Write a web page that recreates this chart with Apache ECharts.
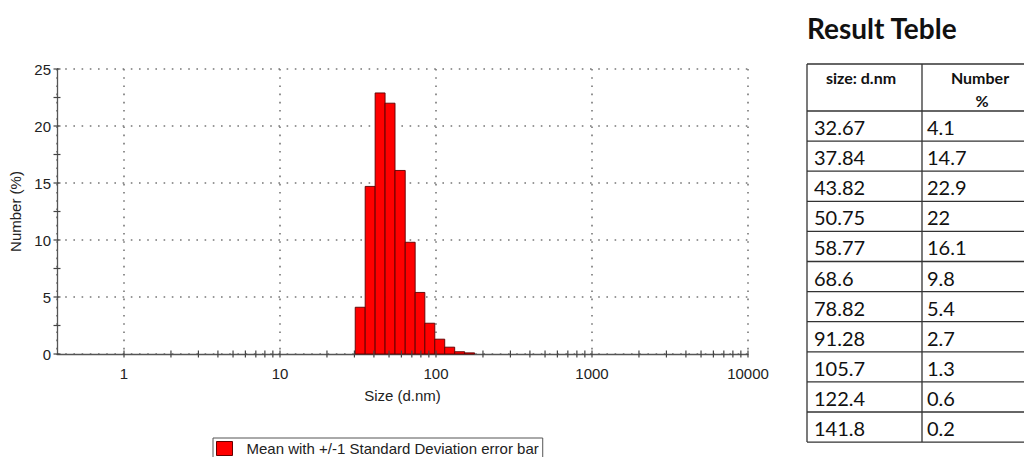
<!DOCTYPE html>
<html><head><meta charset="utf-8">
<script src="https://cdn.jsdelivr.net/npm/echarts@6/dist/echarts.min.js"></script>
<style>html,body{margin:0;padding:0;background:#fff;}#c{width:1024px;height:457px;}</style>
</head><body><div id="c"></div>
<script>
// ---- data ----
const sizes = [32.67, 37.84, 43.82, 50.75, 58.77, 68.6, 78.82, 91.28, 105.7, 122.4, 141.8, 164.2];
const numbers = [4.1, 14.7, 22.9, 22, 16.1, 9.8, 5.4, 2.7, 1.3, 0.6, 0.2, 0.1];
const tableSizes = ['32.67', '37.84', '43.82', '50.75', '58.77', '68.6', '78.82', '91.28', '105.7', '122.4', '141.8'];
const tableNumbers = ['4.1', '14.7', '22.9', '22', '16.1', '9.8', '5.4', '2.7', '1.3', '0.6', '0.2'];
const xLabelValues = [1, 10, 100, 1000, 10000];
const xTicks = [1,2,3,4,5,6,7,8,9,10,20,30,40,50,60,70,80,90,100,200,300,400,500,600,700,800,900,1000,2000,3000,4000,5000,6000,7000,8000,9000,10000];
const yTicks = [0, 2.5, 5, 7.5, 10, 12.5, 15, 17.5, 20, 22.5, 25];
const legendName = 'Mean with +/-1 Standard Deviation error bar';
const xMin = 0.372, xMax = 10000;

// histogram bin edges (geometric midpoints between bin centres)
const binData = sizes.map((c, i) => {
  const prev = i > 0 ? sizes[i - 1] : c * c / sizes[1];
  const next = i < sizes.length - 1 ? sizes[i + 1] : c * c / sizes[i - 1];
  return [Math.sqrt(prev * c), Math.sqrt(c * next), numbers[i]];
});

const FONT = '"Liberation Sans", Arial, sans-serif';
const TFONT = 'Lato, "Open Sans", sans-serif';

// ---- table graphic ----
const tblLeft = 807, tblMid = 922, tblRight = 1040, tblTop = 64, hdrBottom = 111, rowH = 30.1;
const g = [];
g.push({type:'text', left: 807, top: 14, style:{text:'Result Teble', font:'bold 28px ' + TFONT, fill:'#111'}});
const nRows = tableSizes.length;
const tblBottom = hdrBottom + nRows * rowH;
const lineStyle = {stroke:'#333', lineWidth:1.3};
g.push({type:'line', shape:{x1:tblLeft, y1:tblTop, x2:tblRight, y2:tblTop}, style:lineStyle});
g.push({type:'line', shape:{x1:tblLeft, y1:hdrBottom, x2:tblRight, y2:hdrBottom}, style:lineStyle});
for (let i = 1; i <= nRows; i++) {
  const y = hdrBottom + i * rowH;
  g.push({type:'line', shape:{x1:tblLeft, y1:y, x2:tblRight, y2:y}, style:lineStyle});
}
[tblLeft, tblMid, tblRight].forEach(x => g.push({type:'line', shape:{x1:x, y1:tblTop, x2:x, y2:tblBottom}, style:lineStyle}));
g.push({type:'text', x:861, y:77, style:{text:'size: d.nm', font:'bold 16px ' + TFONT, fill:'#111', align:'center', verticalAlign:'middle'}});
g.push({type:'text', x:980, y:77, style:{text:'Number', font:'bold 16px ' + TFONT, fill:'#111', align:'center', verticalAlign:'middle'}});
g.push({type:'text', x:982, y:100, style:{text:'%', font:'bold 16px ' + TFONT, fill:'#111', align:'center', verticalAlign:'middle'}});
for (let i = 0; i < nRows; i++) {
  const yc = hdrBottom + (i + 0.5) * rowH + 1;
  g.push({type:'text', x:814, y:yc, style:{text:tableSizes[i], font:'20px ' + TFONT, fill:'#111', verticalAlign:'middle'}});
  g.push({type:'text', x:927, y:yc, style:{text:tableNumbers[i], font:'20px ' + TFONT, fill:'#111', verticalAlign:'middle'}});
}

const chart = echarts.init(document.getElementById('c'), null, {renderer:'svg'});
chart.setOption({
  animation: false,
  backgroundColor: '#fff',
  grid: {left: 57, right: 1024 - 748, top: 69, bottom: 457 - 354},
  legend: {
    data: [{name: legendName, icon: 'rect'}],
    left: 213, top: 438, orient: 'horizontal',
    padding: [3, 4, 6, 3], itemWidth: 16, itemHeight: 14,
    borderColor: '#555', borderWidth: 1, borderRadius: 0,
    itemStyle: {borderColor: '#600', borderWidth: 1},
    textStyle: {fontFamily: FONT, fontSize: 15, color: '#222', padding: [0, 0, 0, 9]}
  },
  xAxis: {
    type: 'log', logBase: 10, min: xMin, max: xMax,
    name: 'Size (d.nm)', nameLocation: 'middle', nameGap: 34,
    nameTextStyle: {fontFamily: FONT, fontSize: 15, color: '#222'},
    axisLine: {show: true, lineStyle: {color: '#555', width: 1.3}},
    axisTick: {show: false},
    axisLabel: {
      fontFamily: FONT, fontSize: 15, color: '#222', margin: 12,
      formatter: v => {
        const hit = xLabelValues.find(t => Math.abs(Math.log10(v) - Math.log10(t)) < 1e-6);
        return hit !== undefined ? String(hit) : '';
      }
    },
    splitLine: {show: true, lineStyle: {color: '#777', width: 1.6, type: [1.6, 6.6]}}
  },
  yAxis: {
    type: 'value', min: 0, max: 25, interval: 5,
    name: 'Number (%)', nameLocation: 'middle', nameGap: 32, nameRotate: 90,
    nameTextStyle: {fontFamily: FONT, fontSize: 15, color: '#222'},
    axisLine: {show: true, lineStyle: {color: '#555', width: 1.3}},
    axisTick: {show: false},
    axisLabel: {fontFamily: FONT, fontSize: 15, color: '#222', margin: 6},
    splitLine: {show: true, lineStyle: {color: '#777', width: 1.6, type: [1.6, 6.6]}}
  },
  series: [
    {
      name: legendName, type: 'custom', clip: false,
      itemStyle: {color: '#ff0000', borderColor: '#600', borderWidth: 1},
      encode: {x: [0, 1], y: 2},
      data: binData,
      renderItem: (params, api) => {
        const p0 = api.coord([api.value(0), 0]);
        const p1 = api.coord([api.value(1), api.value(2)]);
        return {type: 'rect', shape: {x: p0[0], y: p1[1], width: p1[0] - p0[0], height: p0[1] - p1[1]},
          style: {fill: '#ff0000', stroke: '#5a0000', lineWidth: 0.9}};
      },
      z: 3
    },
    {
      name: 'xticks', type: 'custom', clip: false, silent: true,
      data: xTicks.map(v => [v, 0]),
      renderItem: (params, api) => {
        const p = api.coord([api.value(0), 0]);
        return {type: 'line', shape: {x1: p[0], y1: p[1] - 3.5, x2: p[0], y2: p[1] + 3.5}, style: {stroke: '#444', lineWidth: 1.2}};
      },
      z: 4
    },
    {
      name: 'yticks', type: 'custom', clip: false, silent: true,
      data: yTicks.map(v => [xMin, v]),
      renderItem: (params, api) => {
        const p = api.coord([api.value(0), api.value(1)]);
        return {type: 'line', shape: {x1: p[0] - 3.5, y1: p[1], x2: p[0] + 3.5, y2: p[1]}, style: {stroke: '#444', lineWidth: 1.2}};
      },
      z: 4
    }
  ],
  graphic: g
});
</script></body></html>
